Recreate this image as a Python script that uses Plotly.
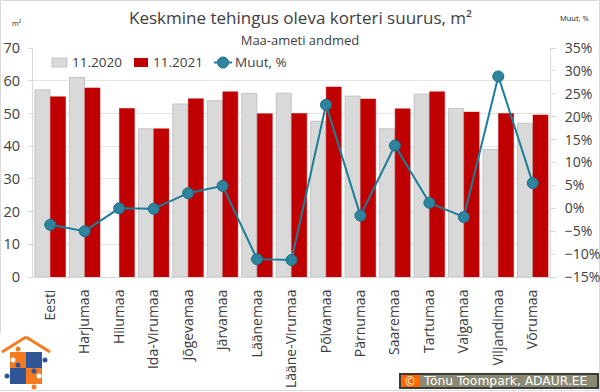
import plotly.graph_objects as go

categories = ["Eesti","Harjumaa","Hiiumaa","Ida-Virumaa","Jõgevamaa","Järvamaa","Läänemaa","Lääne-Virumaa","Põlvamaa","Pärnumaa","Saaremaa","Tartumaa","Valgamaa","Viljandimaa","Võrumaa"]
y2020 = [57.2,61.0,None,45.3,52.9,53.9,56.1,56.2,47.6,55.3,45.3,55.9,51.5,39.0,47.0]
y2021 = [55.1,57.8,51.5,45.3,54.5,56.6,49.9,50.0,58.1,54.4,51.4,56.6,50.4,50.0,49.5]
muut = [-3.6,-5.0,0.0,-0.1,3.3,4.9,-11.1,-11.3,22.6,-1.6,13.7,1.2,-1.9,28.8,5.5]
FONT = "Open Sans"
W, H = 600, 392
L, R, T, B = 33, 50, 48, 115
TXT = "#404040"
GREY, RED, TEAL, MARK = "#D9D9D9", "#C00000", "#1B7F99", "#2E839E"

fig = go.Figure()
fig.add_bar(x=categories, y=y2020, name="11.2020", marker=dict(color=GREY, line=dict(color="#C4C4C4", width=1)))
fig.add_bar(x=categories, y=y2021, name="11.2021", marker=dict(color=RED, line=dict(color=RED, width=0.5)))
fig.add_scatter(x=categories, y=muut, name="Muut, %", yaxis="y2", mode="lines+markers",
                line=dict(color=TEAL, width=2),
                marker=dict(size=11, color=MARK, line=dict(color="#1B6F88", width=1)))

def px(x): return (x - L) / (W - L - R)
def py(y): return (H - B - y) / (H - T - B)

shapes = [dict(type="rect", xref="paper", yref="paper", x0=px(0.5), x1=px(599.5), y0=py(390.5), y1=py(0.5),
               line=dict(color="#D9D9D9", width=1), fillcolor="rgba(0,0,0,0)", layer="below")]

def rect(x0, y0, x1, y1, c, lc=None):
    shapes.append(dict(type="rect", xref="paper", yref="paper", x0=px(x0), x1=px(x1), y0=py(y1), y1=py(y0),
                       line=dict(width=1 if lc else 0, color=lc), fillcolor=c, layer="above"))
def circ(cx, cy, r, c, lc=None):
    shapes.append(dict(type="circle", xref="paper", yref="paper", x0=px(cx-r), x1=px(cx+r), y0=py(cy+r), y1=py(cy-r),
                       line=dict(width=1 if lc else 0, color=lc), fillcolor=c, layer="above"))
def seg(x0, y0, x1, y1, c, w):
    shapes.append(dict(type="line", xref="paper", yref="paper", x0=px(x0), y0=py(y0), x1=px(x1), y1=py(y1),
                       line=dict(color=c, width=w), layer="above"))

# logo
OR, BL = "#F47B20", "#2F5597"
rect(0, 333, 52, 390, "#FFFFFF")
seg(2, 352, 26, 337, OR, 3)
seg(26, 337, 50, 352, OR, 3)
rect(10, 352, 26, 368, OR); rect(26, 352, 42, 368, BL)
rect(10, 368, 26, 384, BL); rect(26, 368, 42, 384, OR)
for cx, cy, c in [(18, 349, OR), (45, 360, BL), (7, 376, BL), (34, 387, OR), (18, 365, BL), (34, 371, BL), (13, 360, "#FFFFFF"), (39, 376, "#FFFFFF")]:
    circ(cx, cy, 2.5, c)

# copyright plate
rect(399, 373, 599, 389, "#3A3A3A")
rect(401, 375, 597, 387, "#8A8A72")
rect(402, 375, 419, 387, "#FF6600")

# legend swatches
rect(52, 58, 67, 67, GREY, "#C4C4C4")
rect(134, 58, 148, 67, RED)
seg(214, 62.5, 232, 62.5, TEAL, 2)
circ(223, 62.5, 5.5, MARK, "#1B6F88")

def ann(text, x, y, size, color=TXT, family=FONT, **kw):
    return dict(text=text, xref="paper", yref="paper", x=px(x), y=py(y), showarrow=False,
                font=dict(family=family, size=size, color=color), **kw)

annotations = [
    ann("Keskmine tehingus oleva korteri suurus, m²", 300, 18, 17, xanchor="center", yanchor="middle"),
    ann("Maa-ameti andmed", 300, 40, 13, xanchor="center", yanchor="middle", bgcolor="#FFFFFF", width=348, height=18),
    ann("m²", 16, 23, 7, color="#222222", xanchor="center", yanchor="middle"),
    ann("Muut, %", 574, 18, 7.5, color="#222222", xanchor="center", yanchor="middle"),
    ann("11.2020", 70, 62, 13.5, xanchor="left", yanchor="middle"),
    ann("11.2021", 151, 62, 13.5, xanchor="left", yanchor="middle"),
    ann("Muut, %", 233, 62, 13.5, xanchor="left", yanchor="middle"),
    ann("©", 410, 381, 12, color="#FFFFFF", xanchor="center", yanchor="middle"),
    ann("Tõnu Toompark, ADAUR.EE", 421, 381, 12.3, color="#FFFFFF", family="DejaVu Sans", xanchor="left", yanchor="middle"),
]

fig.update_layout(
    width=W, height=H, autosize=False,
    margin=dict(l=L, r=R, t=T, b=B, autoexpand=False),
    paper_bgcolor="white", plot_bgcolor="white",
    font=dict(family=FONT, color=TXT),
    barmode="group", bargap=0.1, bargroupgap=0.03,
    showlegend=False,
    xaxis=dict(range=[-0.5, 14.5], tickangle=-90, tickfont=dict(family=FONT, size=14, color=TXT), showline=True, linecolor="#D9D9D9",
               ticks="", showgrid=False, categoryorder="array", categoryarray=categories, ticklabelstandoff=6),
    yaxis=dict(range=[0, 70], dtick=10, tickfont=dict(family=FONT, size=14.5, color=TXT), gridcolor="#E4E4E4",
               gridwidth=1, showline=True, linecolor="#D9D9D9", ticks="outside", ticklen=4, tickcolor="#D9D9D9",
               zeroline=False, ticklabelstandoff=5),
    yaxis2=dict(overlaying="y", side="right", range=[-15, 35], dtick=5, ticksuffix="%", showgrid=False, zeroline=False,
                tickfont=dict(family=FONT, size=14, color=TXT), showline=True, linecolor="#D9D9D9",
                ticks="outside", ticklen=5, tickcolor="#D9D9D9", ticklabelstandoff=6),
    shapes=shapes, annotations=annotations,
)
fig.write_html("out.html", config=dict(displayModeBar=False),
               post_script="document.body.style.margin='0';document.body.style.overflow='hidden';")
